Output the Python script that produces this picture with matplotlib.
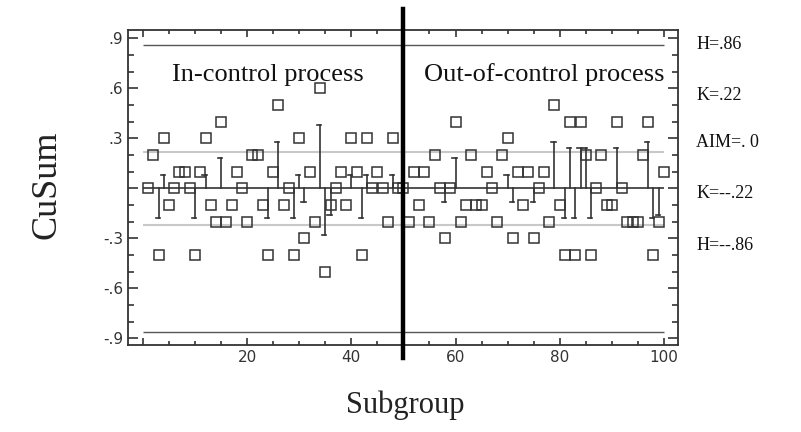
import numpy as np
import matplotlib
matplotlib.use("Agg")
import matplotlib.pyplot as plt

# individual subgroup values (squares), subgroups 1..100
subgroup = np.arange(1, 101)
values = [0, 0.2, -0.4, 0.3, -0.1, 0, 0.1, 0.1, 0, -0.4,
          0.1, 0.3, -0.1, -0.2, 0.4, -0.2, -0.1, 0.1, 0, -0.2,
          0.2, 0.2, -0.1, -0.4, 0.1, 0.5, -0.1, 0, -0.4, 0.3,
          -0.3, 0.1, -0.2, 0.6, -0.5, -0.1, 0, 0.1, -0.1, 0.3,
          0.1, -0.4, 0.3, 0, 0.1, 0, -0.2, 0.3, 0, 0,
          -0.2, 0.1, -0.1, 0.1, -0.2, 0.2, 0, -0.3, 0, 0.4,
          -0.2, -0.1, 0.2, -0.1, -0.1, 0.1, 0, -0.2, 0.2, 0.3,
          -0.3, 0.1, -0.1, 0.1, -0.3, 0, 0.1, -0.2, 0.5, -0.1,
          -0.4, 0.4, -0.4, 0.4, 0.2, -0.4, 0, 0.2, -0.1, -0.1,
          0.4, 0, -0.2, -0.2, -0.2, 0.2, 0.4, -0.4, -0.2, 0.1]

# cusum bars (subgroup, tip value)
cusum_idx = [3, 4, 10, 12, 15, 24, 26, 29, 30, 31, 34, 35, 36, 40, 42, 43, 48,
             58, 60, 70, 71, 75, 79, 81, 82, 83, 84, 85, 86, 91, 97, 98, 99]
cusum_val = [-0.18, 0.08, -0.18, 0.08, 0.18, -0.18, 0.28, -0.18, 0.08, -0.08,
             0.38, -0.28, -0.16, 0.08, -0.18, 0.08, 0.08,
             -0.08, 0.18, 0.08, -0.08, -0.08, 0.28, -0.18, 0.24, -0.18, 0.24,
             0.24, -0.18, 0.24, 0.28, -0.18, -0.16]

H = 0.86
K = 0.22
AIM = 0.0
change_point = 50

side_labels = ["H=.86", "K=.22", "AIM=. 0", "K=--.22", "H=--.86"]
ytick_vals = [-0.9, -0.6, -0.3, 0, 0.3, 0.6, 0.9]
ytick_text = ["-.9", "-.6", "-.3", "", ".3", ".6", ".9"]
xtick_vals = [0, 20, 40, 60, 80, 100]
xtick_text = ["", "20", "40", "60", "80", "100"]

fig = plt.figure(figsize=(8.01, 4.32), dpi=100)
ax = fig.add_axes([0.160, 0.2014, 0.687, 0.7292])

# limit lines
ax.hlines([H, -H], 0, 100, color="#555555", lw=1.0)
ax.hlines([K, -K], 0, 100, color="#c8c8c8", lw=1.5)
ax.hlines(AIM, 0, 100, color="#333333", lw=1.2)

# cusum bars with small caps
for i, v in zip(cusum_idx, cusum_val):
    ax.plot([i, i], [0, v], color="#333333", lw=1.2)
    ax.plot([i - 0.6, i + 0.2], [v, v], color="#333333", lw=1.2)

ax.plot(subgroup, values, linestyle="none", marker="s", markersize=6.5,
        markerfacecolor="none", markeredgecolor="#333333", markeredgewidth=1.1)

# change point divider
ax.plot([change_point, change_point], [1.076, -1.02], color="black", lw=3.2,
        clip_on=False, zorder=5)

ax.text(24, 0.68, "In-control process", family="Liberation Serif",
        fontsize=19, ha="center", va="center", color="#111111")
ax.text(77, 0.68, "Out-of-control process", family="Liberation Serif",
        fontsize=19, ha="center", va="center", color="#111111")

ax.set_xlim(-2.85, 102.8)
ax.set_ylim(-0.94, 0.95)
ax.set_xticks(xtick_vals)
ax.set_xticklabels(xtick_text)
ax.set_xticks(np.arange(0, 101, 5), minor=True)
ax.set_yticks(ytick_vals)
ax.set_yticklabels(ytick_text)
ax.set_yticks(np.arange(-0.9, 0.91, 0.1), minor=True)
ax.tick_params(axis="both", which="both", direction="in", top=True,
               right=True, colors="#333333", labelsize=11, width=1.2)
ax.tick_params(axis="y", which="major", length=7)
ax.tick_params(axis="y", which="minor", length=4)
ax.tick_params(axis="x", which="major", length=5)
ax.tick_params(axis="x", which="minor", length=3)
for s in ax.spines.values():
    s.set_color("#333333")
    s.set_linewidth(1.3)

for lab, yy in zip(side_labels, [0.896, 0.778, 0.669, 0.553, 0.431]):
    fig.text(0.869, yy, lab, family="Liberation Serif", fontsize=13,
             ha="left", va="center", color="#111111")

fig.text(0.059, 0.572, "CuSum", family="Liberation Serif", fontsize=26,
         rotation=90, ha="center", va="center", color="#222222")
fig.text(0.506, 0.0625, "Subgroup", family="Liberation Serif", fontsize=22,
         ha="center", va="center", color="#222222")

fig.savefig("out.png", dpi=100)
